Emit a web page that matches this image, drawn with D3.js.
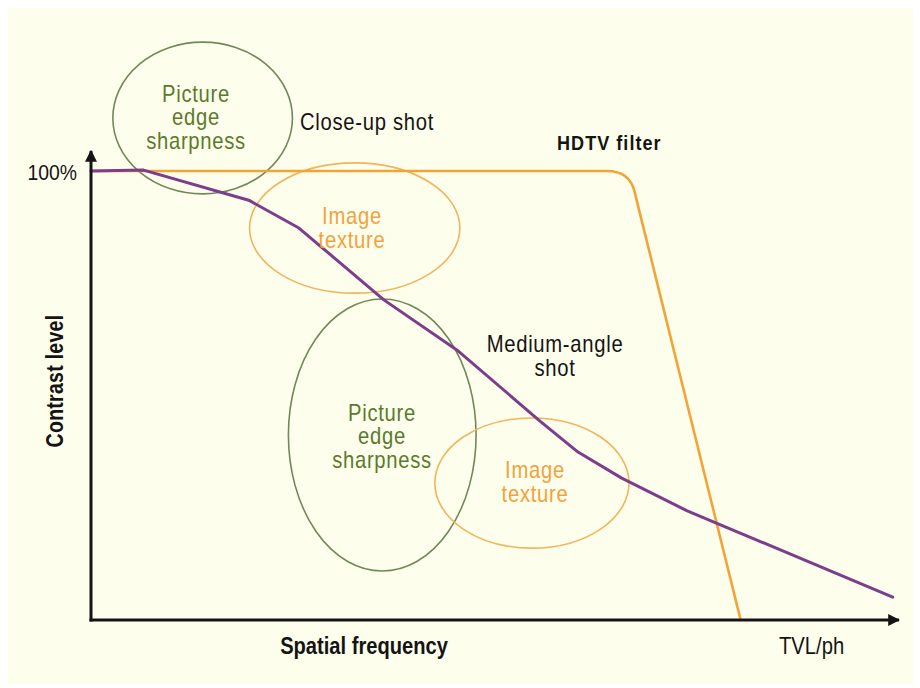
<!DOCTYPE html>
<html>
<head>
<meta charset="utf-8">
<script src="https://cdn.jsdelivr.net/npm/d3@7"></script>
<style>
  html, body { margin: 0; padding: 0; background: #ffffff; }
  svg { display: block; }
  text { font-family: "Liberation Sans", Arial, sans-serif; }
</style>
</head>
<body>
<svg id="chart" width="920" height="688"></svg>
<script>
// Spatial frequency (arbitrary units, 0-100) vs contrast level (%)
const mtfFreq     = [0, 6.5, 19.5, 25.7, 36.2, 45.4, 55.5, 60.2, 65.6, 73.7, 77.3, 99.1];
const mtfContrast = [100, 100.2, 93.5, 87.3, 71.3, 59.9, 44.3, 37.4, 31.6, 24.3, 21.6, 5.1];

// HDTV filter: flat pass band, rounded knee, steep roll-off to zero
const filterFreq     = [0, 63.8, 66.6, 67.2, 80.3];
const filterContrast = [100, 100, 100, 95.3, 0];

// Regions of interest (centre and half-widths in data units)
const zoneKinds   = ["edge", "texture", "edge", "texture"];
const zoneFreq    = [13.8, 32.6, 36.0, 54.5];
const zoneLevel   = [111.8, 87.3, 41.2, 30.5];
const zoneFreqR   = [11.1, 13.0, 11.6, 12.0];
const zoneLevelR  = [16.9, 14.5, 30.3, 14.5];
const zoneLines   = [["Picture", "edge", "sharpness"], ["Image", "texture"],
                     ["Picture", "edge", "sharpness"], ["Image", "texture"]];

const yTicks = [100];

const svg = d3.select("#chart");

// cream panel
svg.append("rect").attr("x", 8).attr("y", 8).attr("width", 905).attr("height", 676)
  .attr("fill", "#fefeec");

const x = d3.scaleLinear().domain([0, 100]).range([91, 900]);
const y = d3.scaleLinear().domain([0, 100]).range([620, 171]);

const colors = {
  edgeStroke: "#71895a", edgeText: "#5b7a2c",
  texStroke: "#f2b45c", texText: "#f1a23d",
  filter: "#f4a335", mtf: "#7c3d8c", ink: "#141414"
};

// Condensed text: horizontally compressed glyphs
function condText(px, py, lines, opts) {
  const o = Object.assign({ size: 23, sx: 0.88, ls: 0.8, weight: "normal",
    anchor: "start", fill: colors.ink, lead: 24, rotate: 0 }, opts);
  const g = svg.append("g")
    .attr("transform", `translate(${px},${py}) rotate(${o.rotate}) scale(${o.sx},1)`);
  const t = g.append("text")
    .attr("text-anchor", o.anchor)
    .attr("font-size", o.size).attr("font-weight", o.weight)
    .attr("letter-spacing", o.ls).attr("fill", o.fill);
  lines.forEach((ln, j) => {
    t.append("tspan").attr("x", 0).attr("y", j * o.lead).text(ln);
  });
  return g;
}

// Zones (ellipses)
const zones = zoneKinds.map((k, i) => ({
  kind: k, cx: zoneFreq[i], cy: zoneLevel[i],
  rx: zoneFreqR[i], ry: zoneLevelR[i], lines: zoneLines[i]
}));

svg.append("g").selectAll("ellipse").data(zones).join("ellipse")
  .attr("cx", d => x(d.cx))
  .attr("cy", d => y(d.cy))
  .attr("rx", d => x(d.cx + d.rx) - x(d.cx))
  .attr("ry", d => y(d.cy - d.ry) - y(d.cy))
  .attr("fill", "none")
  .attr("stroke", d => d.kind === "edge" ? colors.edgeStroke : colors.texStroke)
  .attr("stroke-width", 1.6);

// HDTV filter curve
const fp = filterFreq.map((f, i) => [x(f), y(filterContrast[i])]);
const fpath = d3.path();
fpath.moveTo(fp[0][0], fp[0][1]);
fpath.lineTo(fp[1][0], fp[1][1]);
fpath.quadraticCurveTo(fp[2][0], fp[2][1], fp[3][0], fp[3][1]);
fpath.lineTo(fp[4][0], fp[4][1]);
svg.append("path").attr("d", fpath.toString())
  .attr("fill", "none").attr("stroke", colors.filter).attr("stroke-width", 2.6)
  .attr("stroke-linejoin", "round");

// Response curve
const mtfLine = d3.line().x(d => x(d[0])).y(d => y(d[1])).curve(d3.curveLinear);
svg.append("path").datum(mtfFreq.map((f, i) => [f, mtfContrast[i]]))
  .attr("d", mtfLine)
  .attr("fill", "none").attr("stroke", colors.mtf).attr("stroke-width", 3)
  .attr("stroke-linejoin", "round").attr("stroke-linecap", "round");

// Zone labels
const zoneLabelPos = [[196, 101.5], [352, 224], [382, 420.5], [535, 478]];
zones.forEach((z, i) => {
  condText(zoneLabelPos[i][0], zoneLabelPos[i][1], z.lines, {
    anchor: "middle", lead: 24,
    fill: z.kind === "edge" ? colors.edgeText : colors.texText
  });
});

// Axes with arrowheads
const defs = svg.append("defs");
defs.append("marker").attr("id", "arrow").attr("viewBox", "0 0 10 10")
  .attr("refX", 9).attr("refY", 5).attr("markerWidth", 4).attr("markerHeight", 4)
  .attr("orient", "auto").attr("markerUnits", "strokeWidth")
  .append("path").attr("d", "M0,0 L10,5 L0,10 Z").attr("fill", colors.ink);

svg.append("line").attr("x1", x(0)).attr("y1", y(0) + 1.5).attr("x2", x(0)).attr("y2", 151)
  .attr("stroke", colors.ink).attr("stroke-width", 3).attr("marker-end", "url(#arrow)");
svg.append("line").attr("x1", x(0) - 1.5).attr("y1", y(0)).attr("x2", 899).attr("y2", y(0))
  .attr("stroke", colors.ink).attr("stroke-width", 3).attr("marker-end", "url(#arrow)");

// 100% tick label
const yAxis = d3.axisLeft(y).tickValues(yTicks).tickSize(0).tickPadding(0)
  .tickFormat(() => "");
const ya = svg.append("g").attr("transform", `translate(${x(0)},0)`).call(yAxis);
ya.select(".domain").remove();
yTicks.forEach(v => {
  condText(x(0) - 14, y(v) + 8.5, [v + "%"], { anchor: "end", size: 22, ls: 0 });
});

// Plain annotations
condText(300, 129.5, ["Close-up shot"], {});
condText(557, 150, ["HDTV filter"], { size: 21, sx: 0.86, weight: "bold", ls: 1.2 });
condText(555, 351.5, ["Medium-angle"], { anchor: "middle" });
condText(555, 375.5, ["shot"], { anchor: "middle" });

// Axis titles
condText(364, 654, ["Spatial frequency"], { anchor: "middle", size: 23, sx: 0.875, weight: "bold", ls: 0 });
condText(63, 381, ["Contrast level"], { anchor: "middle", size: 23, sx: 0.85, weight: "bold", ls: 0.3, rotate: -90 });
condText(779, 654, ["TVL/ph"], { size: 23, ls: 0 });
</script>
</body>
</html>
